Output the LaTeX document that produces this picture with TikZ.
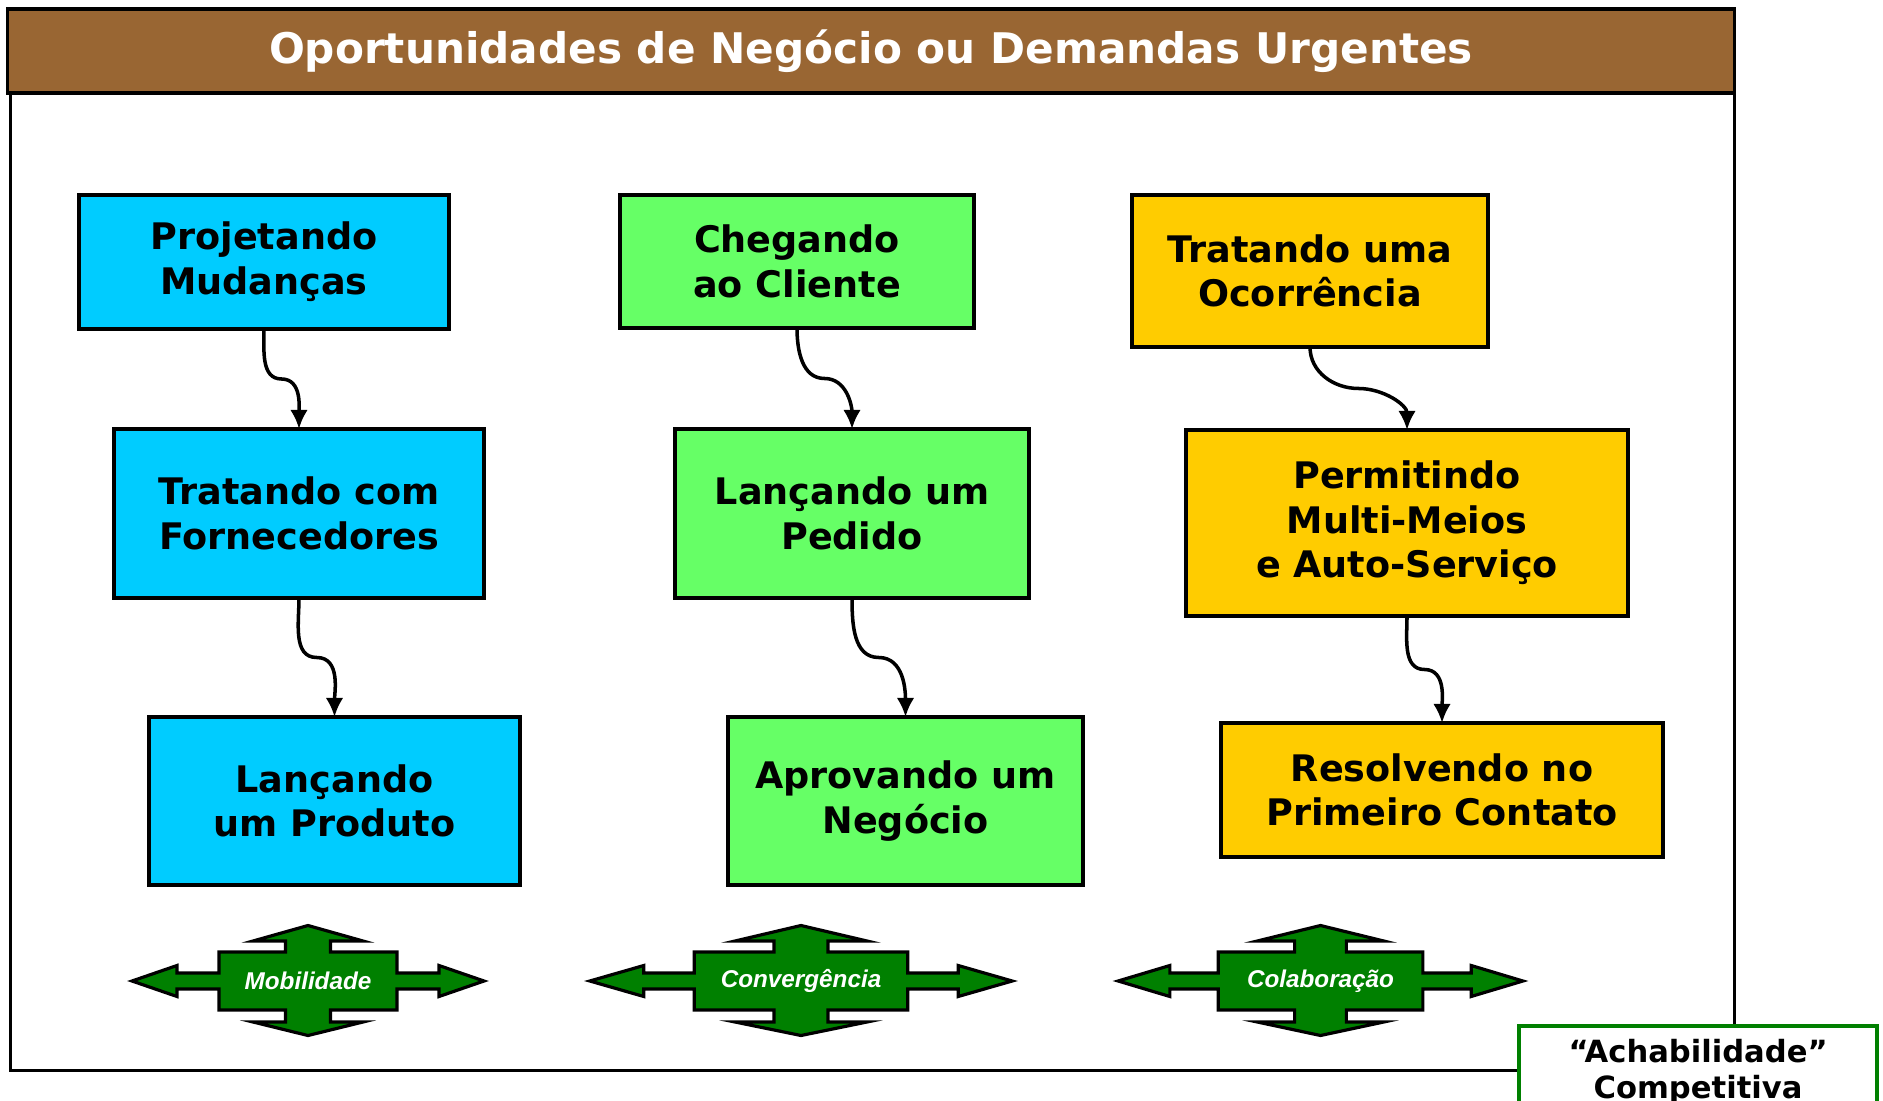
\documentclass[tikz,border=0pt]{standalone}
\usepackage{fontspec}
\setmainfont{DejaVu Sans}
\newfontfamily\arialfont{Liberation Sans}
\usetikzlibrary{arrows.meta,calc,positioning}

\definecolor{barbrown}{HTML}{996633}
\definecolor{boxblue}{HTML}{00CCFF}
\definecolor{boxgreen}{HTML}{66FF66}
\definecolor{boxyellow}{HTML}{FFCC00}
\definecolor{darkgreen}{HTML}{008000}

\tikzset{
  stagebox/.style={draw, line width=1pt, inner sep=0pt, outer sep=0pt, align=center,
    font=\bfseries\fontsize{10.4}{12.7}\selectfont},
  conn/.style={line width=1pt, -{Latex[length=5.4pt,width=5pt]}},
  armlabel/.style={text=white, font=\arialfont\bfseries\itshape\fontsize{6.9}{8}\selectfont},
  crossarrow/.pic={
    \draw[fill=darkgreen, line width=0.9pt, line join=miter]
      (-176,0) -- (-131,-15.5) -- (-131,-8) -- (-89,-8) -- (-89,-29) -- (-22.5,-29)
      -- (-22.5,-40) -- (-55,-40) -- (0,-55.5) -- (55,-40) -- (22.5,-40) -- (22.5,-29)
      -- (89,-29) -- (89,-8) -- (131,-8) -- (131,-15.5) -- (176,0) -- (131,15.5)
      -- (131,8) -- (89,8) -- (89,29) -- (22.5,29) -- (22.5,41) -- (55,41) -- (0,54.5)
      -- (-55,41) -- (-22.5,41) -- (-22.5,29) -- (-89,29) -- (-89,8) -- (-131,8)
      -- (-131,15.5) -- cycle;
  }
}

\begin{document}
\begin{tikzpicture}[x=0.01cm, y=-0.01cm]
\useasboundingbox (0,0) rectangle (1883,1101);

% moldura e titulo
\node[draw, line width=1pt, inner sep=0pt, outer sep=0pt, minimum width=17.23cm, minimum height=9.77cm] (frame) at (872.5,581.5) {};
\node[draw, line width=1pt, fill=barbrown, text=white, inner sep=0pt, outer sep=0pt,
  minimum width=17.26cm, minimum height=0.84cm, font=\bfseries\fontsize{12}{14}\selectfont] (title) at (871,51)
  {Oportunidades de Negócio ou Demandas Urgentes};

% coluna azul
\node[stagebox, fill=boxblue, minimum width=3.70cm, minimum height=1.34cm] (proj) at (264,262) {Projetando\\Mudanças};
\node[stagebox, fill=boxblue, minimum width=3.70cm, minimum height=1.69cm] (forn) at (299,513.5) {Tratando com\\Fornecedores};
\node[stagebox, fill=boxblue, minimum width=3.71cm, minimum height=1.68cm] (prod) at (334.5,801) {Lançando\\um Produto};

% coluna verde
\node[stagebox, fill=boxgreen, minimum width=3.54cm, minimum height=1.33cm] (cheg) at (797,261.5) {Chegando\\ao Cliente};
\node[stagebox, fill=boxgreen, minimum width=3.54cm, minimum height=1.69cm] (pedi) at (852,513.5) {Lançando um\\Pedido};
\node[stagebox, fill=boxgreen, minimum width=3.55cm, minimum height=1.68cm] (nego) at (905.5,801) {Aprovando um\\Negócio};

% coluna amarela
\node[stagebox, fill=boxyellow, minimum width=3.56cm, minimum height=1.52cm] (ocor) at (1310,271) {Tratando uma\\Ocorrência};
\node[stagebox, fill=boxyellow, minimum width=4.42cm, minimum height=1.86cm] (meio) at (1407,523) {Permitindo\\Multi-Meios\\e Auto-Serviço};
\node[stagebox, fill=boxyellow, minimum width=4.42cm, minimum height=1.34cm] (cont) at (1442,790) {Resolvendo no\\Primeiro Contato};

% ligacoes
\draw[conn] (proj.south) to[out=-90,in=180] ($(proj.south)!.5!(forn.north)$) to[out=0,in=90] (forn.north);
\draw[conn] (forn.south) to[out=-90,in=180] ($(forn.south)!.5!(prod.north)$) to[out=0,in=90] (prod.north);
\draw[conn] (cheg.south) to[out=-90,in=180] ($(cheg.south)!.5!(pedi.north)$) to[out=0,in=90] (pedi.north);
\draw[conn] (pedi.south) to[out=-90,in=180] ($(pedi.south)!.5!(nego.north)$) to[out=0,in=90] (nego.north);
\draw[conn] (ocor.south) to[out=-90,in=180] ($(ocor.south)!.5!(meio.north)$) to[out=0,in=90] (meio.north);
\draw[conn] (meio.south) to[out=-90,in=180] ($(meio.south)!.5!(cont.north)$) to[out=0,in=90] (cont.north);

% setas em cruz
\pic at (308,981) {crossarrow};
\node[armlabel] (mobi) at (308,981) {Mobilidade};
\pic[xscale=1.2] at (801,981) {crossarrow};
\node[armlabel] (conv) at (801,981) {Convergência};
\pic[xscale=1.15] at (1320.5,981) {crossarrow};
\node[armlabel] (cola) at (1320.5,981) {Colaboração};

% achabilidade
\node[draw=darkgreen, line width=1.15pt, fill=white, inner sep=0pt, outer sep=0pt, align=center,
  minimum width=3.58cm, minimum height=0.92cm, font=\bfseries\fontsize{8.7}{10}\selectfont] (achab) at (1698,1072)
  {“Achabilidade”\\Competitiva};
\end{tikzpicture}
\end{document}
